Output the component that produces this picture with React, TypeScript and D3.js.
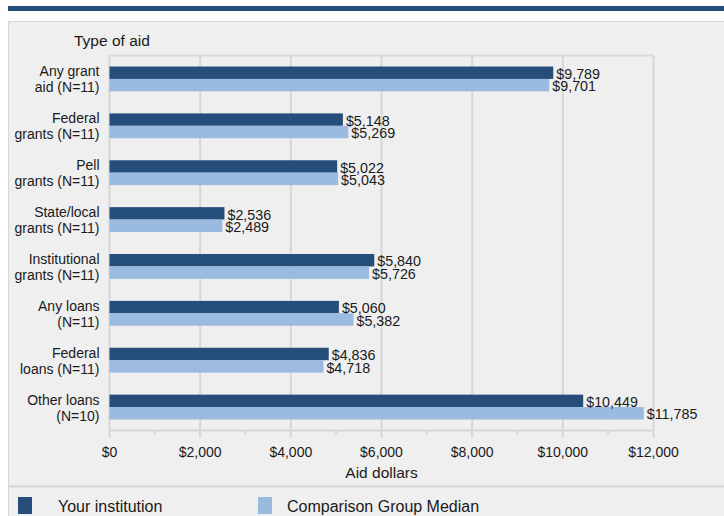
import React from "react";
import * as d3 from "d3";

const categories = [
  ["Any grant", "aid (N=11)"],
  ["Federal", "grants (N=11)"],
  ["Pell", "grants (N=11)"],
  ["State/local", "grants (N=11)"],
  ["Institutional", "grants (N=11)"],
  ["Any loans", "(N=11)"],
  ["Federal", "loans (N=11)"],
  ["Other loans", "(N=10)"],
];
const yourInstitution = [9789, 5148, 5022, 2536, 5840, 5060, 4836, 10449];
const comparisonMedian = [9701, 5269, 5043, 2489, 5726, 5382, 4718, 11785];
const xTicks = [0, 2000, 4000, 6000, 8000, 10000, 12000];
const minorTicks = [1000, 3000, 5000, 7000, 9000, 11000];
const seriesNames = ["Your institution", "Comparison Group Median"];

const DARK = "#254e7b";
const LIGHT = "#9bbadf";
const FONT = "'Liberation Sans', Arial, sans-serif";
const TXT = "#1a1a1a";

export default function App() {
  const W = 724, H = 516;
  const left = 109.5, right = 653.5, top = 55.5, bottom = 430.5;
  const x = d3.scaleLinear().domain([0, 12000]).range([left, right]);
  const band = d3
    .scaleBand<number>()
    .domain(d3.range(categories.length))
    .range([top, bottom])
    .paddingInner(0.47)
    .paddingOuter(0.235);
  const bw = band.bandwidth();
  const fmt = (v: number) => "$" + d3.format(",")(v);

  return (
    <svg
      width={W}
      height={H}
      style={{ position: "absolute", left: 0, top: 0, background: "#ffffff" }}
      fontFamily={FONT}
    >
      <rect x={8} y={6} width={W - 8} height={5} fill={DARK} />
      <rect x={8.5} y={21.5} width={W} height={H} fill="#efefef" stroke="#d6d6d6" strokeWidth={1} />
      <line x1={8} x2={W} y1={486.5} y2={486.5} stroke="#d6d6d6" strokeWidth={2} />

      <text x={74} y={46} fontSize={15.5} fill={TXT}>Type of aid</text>

      <line x1={left} x2={right} y1={top} y2={top} stroke="#d9d9d9" strokeWidth={2} />
      {xTicks.map((t) => (
        <line key={"g" + t} x1={x(t)} x2={x(t)} y1={top} y2={bottom + 7} stroke="#d6d6d6" strokeWidth={2} />
      ))}
      <line x1={left} x2={right} y1={bottom} y2={bottom} stroke="#d6d6d6" strokeWidth={2} />
      {minorTicks.map((t) => (
        <line key={"m" + t} x1={x(t)} x2={x(t)} y1={bottom} y2={bottom + 4} stroke="#d6d6d6" strokeWidth={2} />
      ))}
      {xTicks.map((t) => (
        <text key={"t" + t} x={x(t)} y={457} fontSize={14} textAnchor="middle" fill={TXT}>
          {fmt(t)}
        </text>
      ))}
      <text x={(left + right) / 2} y={478} fontSize={15.5} textAnchor="middle" fill={TXT}>
        Aid dollars
      </text>

      {categories.map((c, i) => {
        const y0 = band(i)!;
        const h1 = bw / 2;
        const cy = y0 + bw / 2;
        return (
          <g key={i}>
            <rect x={x(0)} y={y0} width={x(yourInstitution[i]) - x(0)} height={h1} fill={DARK} />
            <rect x={x(0)} y={y0 + h1} width={x(comparisonMedian[i]) - x(0)} height={h1} fill={LIGHT} />
            <text x={x(yourInstitution[i]) + 3} y={y0 + h1} fontSize={14.3} fill={TXT}>
              {fmt(yourInstitution[i])}
            </text>
            <text x={x(comparisonMedian[i]) + 3} y={y0 + bw} fontSize={14.3} fill={TXT}>
              {fmt(comparisonMedian[i])}
            </text>
            <text x={99.5} y={cy - 2.5} fontSize={14} textAnchor="end" fill={TXT}>{c[0]}</text>
            <text x={99.5} y={cy + 13.5} fontSize={14} textAnchor="end" fill={TXT}>{c[1]}</text>
          </g>
        );
      })}

      <rect x={18} y={497} width={14} height={17} fill={DARK} />
      <text x={58} y={511.5} fontSize={16} fill={TXT}>{seriesNames[0]}</text>
      <rect x={258} y={497} width={14} height={17} fill={LIGHT} />
      <text x={287} y={511.5} fontSize={16} fill={TXT}>{seriesNames[1]}</text>
    </svg>
  );
}
